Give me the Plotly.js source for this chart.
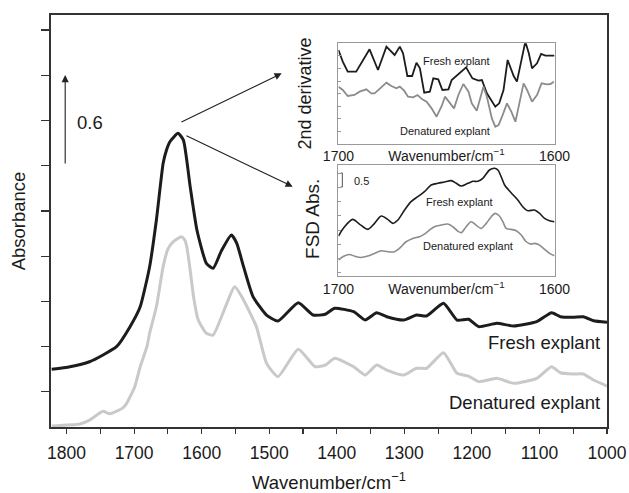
<!DOCTYPE html>
<html>
<head>
<meta charset="utf-8">
<script src="https://cdn.plot.ly/plotly-3.0.1.min.js"></script>
<style>html,body{margin:0;padding:0;background:#fff;}#chart{width:629px;height:493px;}</style>
</head>
<body>
<div id="chart"></div>
<script>
// ---- Main spectrum (wavenumber / cm-1, absorbance) ----
const freshWn = [1822,1795,1766,1746,1726,1706,1691,1677,1667,1657,1652,1647,1635,1627,1617,1607,1593,1583,1571,1556,1548,1538,1524,1504,1487,1457,1435,1417,1403,1375,1358,1341,1326,1301,1282,1267,1242,1222,1205,1190,1163,1138,1104,1082,1069,1050,1035,1020,1000];
const freshAbs = [0.383,0.400,0.433,0.478,0.533,0.666,0.798,1.064,1.374,1.750,1.838,1.893,1.949,1.904,1.595,1.307,1.086,1.053,1.167,1.274,1.219,1.064,0.865,0.743,0.703,0.825,0.743,0.748,0.788,0.765,0.710,0.758,0.732,0.710,0.743,0.737,0.821,0.710,0.715,0.666,0.688,0.670,0.699,0.758,0.732,0.728,0.732,0.705,0.695];

const denatWn = [1822,1780,1766,1746,1736,1717,1711,1699,1691,1681,1677,1667,1657,1650,1642,1630,1625,1622,1617,1612,1605,1593,1583,1551,1538,1519,1504,1487,1457,1432,1417,1403,1375,1358,1341,1326,1301,1282,1267,1242,1222,1205,1190,1163,1138,1104,1082,1069,1050,1035,1020,1000];
const denatAbs = [0.007,0.020,0.046,0.104,0.088,0.125,0.157,0.267,0.400,0.533,0.622,0.798,1.064,1.180,1.230,1.263,1.241,1.196,1.042,0.865,0.710,0.622,0.610,0.931,0.843,0.666,0.423,0.334,0.516,0.400,0.411,0.456,0.400,0.345,0.411,0.378,0.345,0.390,0.390,0.493,0.356,0.338,0.301,0.323,0.290,0.323,0.400,0.360,0.352,0.352,0.312,0.272];

// ---- Inset 1: 2nd derivative (arbitrary units) ----
const d2FreshWn = [1700.0,1698.0,1695.7,1691.8,1685.6,1681.7,1677.8,1674.0,1671.6,1670.1,1668.1,1665.9,1663.9,1662.3,1660.3,1657.7,1656.1,1653.8,1651.9,1649.1,1647.6,1644.5,1642.2,1640.9,1639.8,1638.0,1635.2,1633.6,1631.3,1629.0,1627.4,1625.6,1623.6,1621.7,1618.9,1617.4,1615.3,1613.5,1611.9,1610.4,1608.1,1606.2,1604.2,1601.9,1600.0];
const d2Fresh = [-0.30,-0.65,-0.95,-0.95,-0.28,-0.90,-0.20,-0.45,-0.20,-0.40,-1.08,-1.08,-0.68,-0.85,-1.58,-1.55,-1.15,-1.18,-1.50,-1.48,-1.20,-1.02,-0.90,-0.82,-0.95,-1.15,-1.22,-1.20,-1.60,-1.85,-2.00,-1.90,-1.50,-0.60,-1.08,-1.25,-0.60,-0.05,-0.40,-0.85,-0.70,-0.42,-0.47,-0.47,-0.47];
const d2DenatWn = [1700.0,1698.0,1695.7,1692.6,1690.2,1687.1,1684.8,1683.3,1680.2,1677.8,1675.5,1673.2,1671.6,1669.6,1667.8,1665.4,1663.4,1661.2,1659.2,1656.9,1654.6,1652.2,1650.7,1648.4,1646.5,1644.5,1642.2,1639.8,1638.3,1636.0,1633.6,1632.9,1631.3,1629.0,1627.4,1625.9,1624.3,1622.0,1620.0,1618.1,1616.6,1614.3,1612.7,1610.4,1608.1,1606.0,1603.4,1601.9,1600.3];
const d2Denat = [-1.40,-1.50,-1.68,-1.65,-1.55,-1.48,-1.60,-1.60,-1.42,-1.28,-1.38,-1.45,-1.40,-1.52,-1.70,-1.72,-1.65,-1.78,-1.85,-2.05,-2.30,-1.98,-1.70,-1.90,-2.05,-1.65,-1.32,-1.55,-1.90,-2.12,-1.60,-1.40,-1.70,-2.35,-2.60,-2.55,-2.30,-1.90,-2.15,-2.45,-2.00,-1.30,-1.50,-1.85,-1.65,-1.30,-1.33,-1.32,-1.25];

// ---- Inset 2: FSD absorbance (arbitrary units) ----
const fsdFreshWn = [1700.0,1697.2,1693.4,1690.3,1686.4,1683.3,1680.2,1677.2,1674.8,1672.5,1669.4,1666.4,1663.3,1660.2,1657.1,1654.0,1650.9,1647.8,1645.5,1643.2,1640.1,1637.8,1635.5,1633.2,1630.1,1627.8,1626.2,1624.7,1623.1,1620.1,1617.0,1614.7,1612.3,1609.3,1606.9,1604.6,1602.3,1600.0];
const fsdFresh = [-2.28,-2.00,-1.78,-1.92,-2.08,-1.90,-1.68,-1.78,-1.90,-1.80,-1.50,-1.25,-1.10,-0.95,-0.75,-0.70,-0.66,-0.62,-0.70,-0.78,-0.70,-0.64,-0.64,-0.55,-0.30,-0.25,-0.30,-0.50,-0.75,-0.98,-1.20,-1.40,-1.52,-1.50,-1.60,-1.75,-1.82,-1.85];
const fsdDenatWn = [1700.0,1698.0,1694.9,1692.6,1689.5,1686.4,1683.3,1680.2,1677.2,1674.1,1671.8,1668.7,1665.6,1662.5,1660.2,1657.9,1655.6,1652.5,1649.4,1647.1,1644.8,1643.2,1640.9,1638.6,1636.3,1634.0,1631.6,1629.3,1627.5,1625.5,1623.9,1622.4,1620.1,1617.7,1615.4,1613.1,1610.8,1609.3,1606.9,1604.6,1602.3,1600.0];
const fsdDenat = [-3.00,-2.90,-2.83,-2.88,-2.92,-2.88,-2.80,-2.72,-2.75,-2.75,-2.65,-2.45,-2.35,-2.30,-2.22,-2.10,-2.00,-1.95,-1.92,-2.00,-2.13,-2.18,-2.00,-1.85,-1.95,-2.05,-1.90,-1.70,-1.60,-1.68,-1.85,-2.05,-2.08,-2.12,-2.25,-2.45,-2.52,-2.50,-2.55,-2.68,-2.80,-2.87];

const mainTicks = ['1800','1700','1600','1500','1400','1300','1200','1100','1000'];
const insetTickVals = [1700, 1650, 1600];
const insetTickText = ['1700', 'Wavenumber/cm<sup>−1</sup>', '1600'];

const FONT = 'Liberation Sans, Arial, Helvetica, sans-serif';
const TXT = '#1a1a1a';
const BLACK = '#1c1c1c';
const LGRAY = '#c9c9c9';
const MGRAY = '#8c8c8c';
const FRAME = '#999999';

const traces = [
  {x: freshWn, y: freshAbs, type: 'scatter', mode: 'lines', name: 'Fresh explant',
   line: {color: BLACK, width: 3, shape: 'spline', smoothing: 0.5}, xaxis: 'x', yaxis: 'y'},
  {x: denatWn, y: denatAbs, type: 'scatter', mode: 'lines', name: 'Denatured explant',
   line: {color: LGRAY, width: 3, shape: 'spline', smoothing: 0.5}, xaxis: 'x', yaxis: 'y'},
  {x: d2FreshWn, y: d2Fresh, type: 'scatter', mode: 'lines', line: {color: BLACK, width: 1.8}, xaxis: 'x2', yaxis: 'y2'},
  {x: d2DenatWn, y: d2Denat, type: 'scatter', mode: 'lines', line: {color: MGRAY, width: 1.8}, xaxis: 'x2', yaxis: 'y2'},
  {x: fsdFreshWn, y: fsdFresh, type: 'scatter', mode: 'lines', line: {color: BLACK, width: 1.6, shape: 'spline', smoothing: 0.8}, xaxis: 'x3', yaxis: 'y3'},
  {x: fsdDenatWn, y: fsdDenat, type: 'scatter', mode: 'lines', line: {color: MGRAY, width: 1.6, shape: 'spline', smoothing: 0.8}, xaxis: 'x3', yaxis: 'y3'}
];

const insetX = {
  range: [1700, 1600], autorange: false, tickmode: 'array', tickvals: insetTickVals, ticktext: insetTickText,
  ticks: '', showline: true, mirror: true, linecolor: FRAME, linewidth: 1,
  showgrid: false, zeroline: false, tickfont: {family: FONT, size: 14, color: TXT}
};
const insetY = {
  autorange: false, ticks: 'inside', ticklen: 3, tickcolor: FRAME, tickwidth: 1,
  showticklabels: false, showline: true, mirror: true, linecolor: FRAME, linewidth: 1,
  showgrid: false, zeroline: false
};

function label(x, y, text, size, extra) {
  return Object.assign({xref: 'paper', yref: 'paper', x: x, y: y, text: text, showarrow: false,
    xanchor: 'center', yanchor: 'middle', font: {family: FONT, size: size, color: TXT}}, extra || {});
}
function arrow(x, y, ax, ay) {
  return {xref: 'x', yref: 'y', axref: 'x', ayref: 'y', x: x, y: y, ax: ax, ay: ay,
    text: '', showarrow: true, arrowhead: 2, arrowsize: 1.3, arrowwidth: 1.1, arrowcolor: '#222', standoff: 0, startstandoff: 0};
}

const layout = {
  width: 629, height: 493,
  margin: {l: 51, r: 22, t: 15, b: 66},
  paper_bgcolor: '#fff', plot_bgcolor: '#fff',
  showlegend: false,
  font: {family: FONT, color: TXT},
  xaxis: {
    domain: [0, 1], range: [1823, 1000], autorange: false,
    tickmode: 'array', tickvals: mainTicks.map(Number), ticktext: mainTicks,
    ticks: 'outside', ticklen: 5, tickwidth: 1.2, tickcolor: '#333', ticklabelstandoff: 4,
    minor: {tickvals: [1750,1650,1550,1450,1350,1250,1150,1050], ticks: 'outside', ticklen: 5, tickwidth: 1.2, tickcolor: '#333'},
    showline: true, mirror: true, linecolor: '#333', linewidth: 1.8,
    showgrid: false, zeroline: false,
    tickfont: {family: FONT, size: 17.5, color: TXT},
    title: {text: 'Wavenumber/cm<sup>−1</sup>', font: {family: FONT, size: 18.5, color: TXT}, standoff: 20}
  },
  yaxis: {
    domain: [0, 1], range: [0, 2.734], autorange: false,
    tick0: 0.234, dtick: 0.3, ticks: 'outside', ticklen: 8, tickwidth: 1.2, tickcolor: '#333',
    showticklabels: false, showline: true, mirror: true, linecolor: '#333', linewidth: 1.8,
    showgrid: false, zeroline: false,
    title: {text: 'Absorbance', font: {family: FONT, size: 18.5, color: TXT}, standoff: 11}
  },
  xaxis2: Object.assign({}, insetX, {domain: [0.517, 0.9056], anchor: 'y2'}),
  yaxis2: Object.assign({}, insetY, {domain: [0.688, 0.9313], anchor: 'x2', range: [-3.105, -0.10], tick0: -0.48, dtick: 0.377}),
  xaxis3: Object.assign({}, insetX, {domain: [0.517, 0.9056], anchor: 'y3'}),
  yaxis3: Object.assign({}, insetY, {domain: [0.367, 0.636], anchor: 'x3', range: [-3.47, -0.15], tick0: -0.40, dtick: 0.425}),
  shapes: [
    {type: 'path', xref: 'x3', yref: 'y3', path: 'M 1698.9,-0.39 L 1698.2,-0.39 L 1698.2,-0.81 L 1698.9,-0.81',
     line: {color: '#555', width: 1}}
  ],
  annotations: [
    arrow(1802, 2.336, 1802, 1.739),
    label(0.0701, 0.740, '0.6', 18.5),
    arrow(1481.5, 2.347, 1632.1, 2.019),
    arrow(1465.2, 1.595, 1624.7, 1.938),
    label(0.9905, 0.2056, 'Fresh explant', 18.5, {xanchor: 'right'}),
    label(0.9905, 0.059, 'Denatured explant', 18.5, {xanchor: 'right'}),
    label(0.4577, 0.8107, '2nd derivative', 18, {textangle: -90}),
    label(0.4712, 0.5049, 'FSD Abs.', 19, {textangle: -90}),
    label(0.7296, 0.8891, 'Fresh explant', 11),
    label(0.7086, 0.7192, 'Denatured explant', 11),
    label(0.7356, 0.5468, 'Fresh explant', 11),
    label(0.7494, 0.4393, 'Denatured explant', 11),
    label(0.5576, 0.5978, '0.5', 11)
  ]
};

Plotly.newPlot('chart', traces, layout, {staticPlot: true, displayModeBar: false});
</script>
</body>
</html>
